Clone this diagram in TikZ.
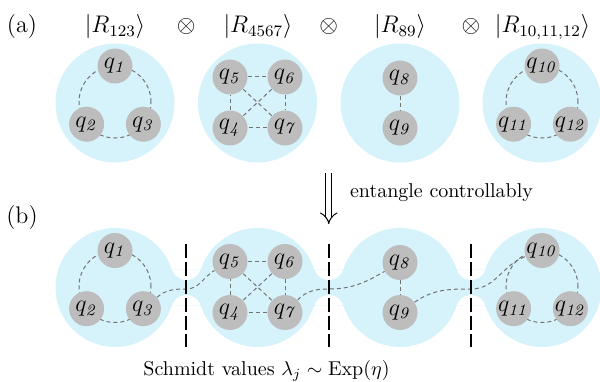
\documentclass[tikz,border=0pt]{standalone}
\usepackage{amsmath,amssymb}
\usepackage{tikz}
\usetikzlibrary{arrows.meta, positioning}
\definecolor{blobblue}{RGB}{214,243,252}
\definecolor{qgray}{RGB}{189,189,189}

\begin{document}
\begin{tikzpicture}[
  x=0.5pt, y=0.5pt,
  blob/.style={fill=blobblue},
  qubit/.style={circle, fill=qgray, minimum size=17.5pt, inner sep=0pt, font=\large},
  link/.style={draw=black!55, line width=0.5pt, dash pattern=on 2pt off 1.5pt},
  cut/.style={line width=1.2pt, dash pattern=on 7pt off 2pt},
  arr/.style={double, double distance=2.6pt, line width=0.5pt, -{Implies}},
  ket/.style={anchor=base, font=\large}
]
  \useasboundingbox (0,0) rectangle (600,381);
  % blobs
  \foreach \cx in {115,257.5,400,542} {
    \fill[blob] (\cx,278) circle[radius=59.5];
    \fill[blob] (\cx,93.5) circle[radius=59.5];
  }
  % necks of row (b)
  \foreach \nx in {186.25,328.75,471} {
    \begin{scope}
      \clip (\nx-14.6,75.36) rectangle (\nx+14.6,111.64);
      \fill[blob, even odd rule] (\nx-14.6,75.36) rectangle (\nx+14.6,111.64)
        (\nx,116.31) circle[radius=15.31] (\nx,70.69) circle[radius=15.31];
    \end{scope}
  }
  % qubits, both rows
  \foreach \r/\cy in {a/278, b/93.5} {
    \draw[link] (115,\cy+1) circle[radius=36];
    \node[qubit] (\r1) at (115,\cy+37) {$q_{\mathit{1}}$};
    \node[qubit] (\r2) at (86.6,\cy-21.2) {$q_{\mathit{2}}$};
    \node[qubit] (\r3) at (143.4,\cy-21.2) {$q_{\mathit{3}}$};

    \node[qubit] (\r5) at (230,\cy+26) {$q_{\mathit{5}}$};
    \node[qubit] (\r6) at (285,\cy+26) {$q_{\mathit{6}}$};
    \node[qubit] (\r4) at (230,\cy-25) {$q_{\mathit{4}}$};
    \node[qubit] (\r7) at (285,\cy-25) {$q_{\mathit{7}}$};
    \draw[link] (\r5) -- (\r6) -- (\r7) -- (\r4) -- (\r5);
    \draw[link] (\r5) -- (\r7) (\r6) -- (\r4);

    \node[qubit] (\r8) at (400,\cy+25) {$q_{\mathit{8}}$};
    \node[qubit] (\r9) at (400,\cy-25) {$q_{\mathit{9}}$};
    \draw[link] (\r8) -- (\r9);

    \draw[link] (542,\cy+1) circle[radius=36];
    \node[qubit] (\r10) at (542,\cy+37) {$q_{\mathit{10}}$};
    \node[qubit] (\r11) at (513.6,\cy-21.2) {$q_{\mathit{11}}$};
    \node[qubit] (\r12) at (570.4,\cy-21.2) {$q_{\mathit{12}}$};
  }
  % entangling links across the cuts
  \coordinate (n1) at (186.25,92);
  \coordinate (n2) at (328.75,92);
  \coordinate (n3) at (471,92);
  \draw[link] (b3) to[out=40,in=180] (n1) to[out=0,in=210] (b5);
  \draw[link] (b7) to[out=45,in=180] (n2) to[out=0,in=210] (b8);
  \draw[link] (b9) to[out=35,in=180] (n3) to[out=0,in=200] (b10);
  \foreach \nx in {186.25,328.75,471}
    \draw[cut] (\nx,137) -- (\nx,34);

  % labels
  \node[ket] (pa) at (22,348) {(a)};
  \node[ket] (k1) at (115,348) {$|R_{123}\rangle$};
  \node[ket] (o1) at (186.25,348) {$\otimes$};
  \node[ket] (k2) at (258,348) {$|R_{4567}\rangle$};
  \node[ket] (o2) at (328.75,348) {$\otimes$};
  \node[ket] (k3) at (400,348) {$|R_{89}\rangle$};
  \node[ket] (o3) at (471,348) {$\otimes$};
  \node[ket] (k4) at (542.5,348) {$|R_{10,11,12}\rangle$};
  \node[ket] (pb) at (22,158) {(b)};

  \coordinate (atop) at (328.75,208);
  \coordinate (atip) at (328.75,157);
  \draw[arr] (atop) -- (atip);
  \node[anchor=base west] (ent) at (343,184) {entangle controllably};
  \node[anchor=base] (sv) at (266.5,6) {Schmidt values $\lambda_j \sim \mathrm{Exp}(\eta)$};
\end{tikzpicture}
\end{document}
